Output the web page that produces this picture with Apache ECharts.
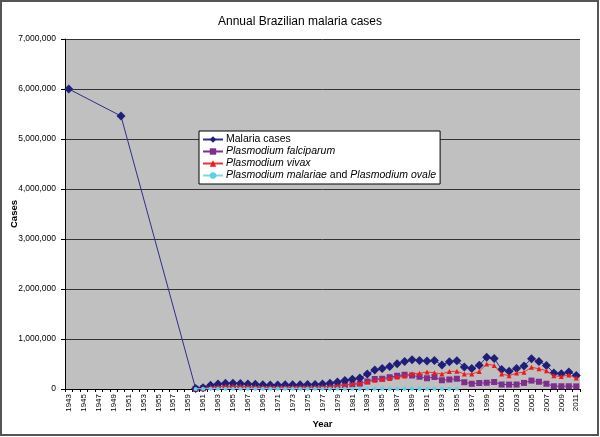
<!DOCTYPE html>
<html><head><meta charset="utf-8">
<script src="https://cdn.jsdelivr.net/npm/echarts@6/dist/echarts.min.js"></script>
<style>html,body{margin:0;padding:0;background:#fff}#c{width:600px;height:437px}</style>
</head><body><div id="c"></div>
<script>
const years = [];
for (let y = 1943; y <= 2011; y++) years.push(String(y));

const yTicks = [0, 1000000, 2000000, 3000000, 4000000, 5000000, 6000000, 7000000];

// Malaria cases, 1943..2011 (null = no data)
const malariaCases = [
  6000000, null, null, null, null, null, null,
  5460000, null, null, null, null, null, null, null, null, null,
  10000, 25000, 75000, 100000, 115000, 115000, 110000, 100000, 95000, 85000,
  80000, 80000, 85000, 85000, 85000, 90000, 90000, 100000, 115000, 140000,
  170000, 197000, 222000, 298000, 378000, 410000, 450000, 505000, 550000, 585000,
  570000, 560000, 570000, 480000, 545000, 565000, 440000, 410000, 475000, 637000,
  612000, 390000, 355000, 410000, 460000, 607000, 552000, 470000, 322000, 305000,
  338000, 272000
];

const falciparum = [
  null, null, null, null, null, null, null,
  null, null, null, null, null, null, null, null, null, null,
  5000, 15000, 40000, 50000, 55000, 55000, 50000, 48000, 45000, 42000,
  40000, 40000, 42000, 42000, 42000, 45000, 45000, 50000, 58000, 70000,
  80000, 95000, 108000, 150000, 200000, 205000, 236000, 265000, 285000, 270000,
  245000, 215000, 240000, 175000, 190000, 205000, 135000, 105000, 120000, 125000,
  140000, 90000, 88000, 90000, 122000, 168000, 145000, 105000, 55000, 55000,
  55000, 52000
];

const vivax = [
  null, null, null, null, null, null, null,
  null, null, null, null, null, null, null, null, null, null,
  4000, 10000, 33000, 45000, 55000, 55000, 55000, 48000, 45000, 40000,
  38000, 38000, 40000, 40000, 40000, 42000, 42000, 47000, 54000, 65000,
  80000, 100000, 110000, 145000, 175000, 200000, 210000, 240000, 260000, 305000,
  315000, 340000, 325000, 300000, 350000, 355000, 300000, 300000, 350000, 500000,
  470000, 300000, 265000, 318000, 336000, 435000, 405000, 365000, 265000, 250000,
  280000, 220000
];

const malariaeOvale = [
  null, null, null, null, null, null, null,
  null, null, null, null, null, null, null, null, null, null,
  1000, 3000, 5000, 6000, 6000, 6000, 5000, 5000, 5000, 4000,
  4000, 4000, 4000, 4000, 4000, 4000, 4000, 4000, 4000, 5000,
  5000, 5000, 5000, 5000, 5000, 5000, 5000, 5000, 5000, 5000,
  5000, 5000, 5000, 5000, 5000, 5000, null, null, null, null,
  null, null, null, null, null, null, null, null, null, null,
  null, null
];

const seriesNames = ['Malaria cases', 'Plasmodium falciparum', 'Plasmodium vivax', 'Plasmodium malariae and Plasmodium ovale'];

const chart = echarts.init(document.getElementById('c'), null, {renderer: 'canvas'});
const font = 'Liberation Sans, Arial, sans-serif';
function fmt(v) { return v.toLocaleString('en-US'); }

chart.setOption({
  animation: false,
  backgroundColor: '#ffffff',
  textStyle: {fontFamily: font},
  title: {
    text: 'Annual Brazilian malaria cases',
    left: 'center', top: 11,
    textStyle: {fontFamily: font, fontSize: 12, fontWeight: 'normal', color: '#000'}
  },
  graphic: [{
    type: 'rect', silent: true, z: 100,
    shape: {x: 1, y: 1, width: 597, height: 434},
    style: {fill: 'none', stroke: '#555', lineWidth: 2}
  }],
  legend: {
    orient: 'vertical',
    left: 199, top: 131,
    backgroundColor: '#ffffff',
    borderColor: '#000', borderWidth: 1, borderRadius: 0,
    padding: [3, 4, 3, 3],
    itemGap: 1,
    itemWidth: 20, itemHeight: 8,
    data: seriesNames,
    formatter: function (name) {
      if (name === 'Malaria cases') return name;
      if (name === 'Plasmodium malariae and Plasmodium ovale')
        return '{i|Plasmodium malariae} and {i|Plasmodium ovale}';
      return '{i|' + name + '}';
    },
    textStyle: {
      fontFamily: font, fontSize: 10.5, color: '#000', padding: [0, 0, 0, -2],
      rich: {i: {fontStyle: 'italic', fontFamily: font, fontSize: 10.5, color: '#000'}}
    }
  },
  grid: {
    left: 65, right: 20, top: 39, bottom: 48,
    containLabel: false, outerBoundsMode: 'none',
    show: true, backgroundColor: '#C0C0C0', borderWidth: 0
  },
  xAxis: {
    type: 'category',
    data: years,
    boundaryGap: true,
    name: 'Year', nameLocation: 'middle', nameGap: 30, nameMoveOverlap: false,
    nameTextStyle: {fontFamily: font, fontSize: 9.5, fontWeight: 'bold', color: '#000'},
    axisLine: {lineStyle: {color: '#000', width: 1}},
    axisTick: {show: true, interval: 0, alignWithLabel: false, length: 3, lineStyle: {color: '#000'}},
    axisLabel: {interval: 1, rotate: 90, fontSize: 8, color: '#000', fontFamily: font, margin: 5},
    splitLine: {show: false}
  },
  yAxis: {
    type: 'value',
    min: yTicks[0], max: yTicks[yTicks.length - 1], interval: 1000000,
    name: 'Cases', nameLocation: 'middle', nameGap: 46, nameMoveOverlap: false,
    nameTextStyle: {fontFamily: font, fontSize: 9.5, fontWeight: 'bold', color: '#000'},
    axisLine: {show: true, lineStyle: {color: '#000', width: 1}},
    axisTick: {show: true, length: 4, lineStyle: {color: '#000'}},
    axisLabel: {fontSize: 8.5, color: '#000', fontFamily: font, margin: 9, formatter: fmt},
    splitLine: {show: true, lineStyle: {color: '#333', width: 1}}
  },
  series: [
    {
      name: seriesNames[0], type: 'line', data: malariaCases, connectNulls: true,
      showAllSymbol: true, symbol: 'diamond', symbolSize: 9, z: 5,
      itemStyle: {color: '#1F1F7A'}, lineStyle: {color: '#2E2E8A', width: 1}
    },
    {
      name: seriesNames[1], type: 'line', data: falciparum, connectNulls: false,
      showAllSymbol: true, symbol: 'rect', symbolSize: 6, z: 4,
      itemStyle: {color: '#7E2F8E'}, lineStyle: {color: '#7E2F8E', width: 1}
    },
    {
      name: seriesNames[2], type: 'line', data: vivax, connectNulls: false,
      showAllSymbol: true, symbol: 'triangle', symbolSize: 5, z: 6,
      itemStyle: {color: '#F01818'}, lineStyle: {color: '#F03030', width: 1}
    },
    {
      name: seriesNames[3], type: 'line', data: malariaeOvale, connectNulls: false,
      showAllSymbol: true, symbol: 'circle', symbolSize: 4, z: 7,
      itemStyle: {color: '#5CD0E6'}, lineStyle: {color: '#7AD8EA', width: 1}
    }
  ]
});
</script>
</body></html>
